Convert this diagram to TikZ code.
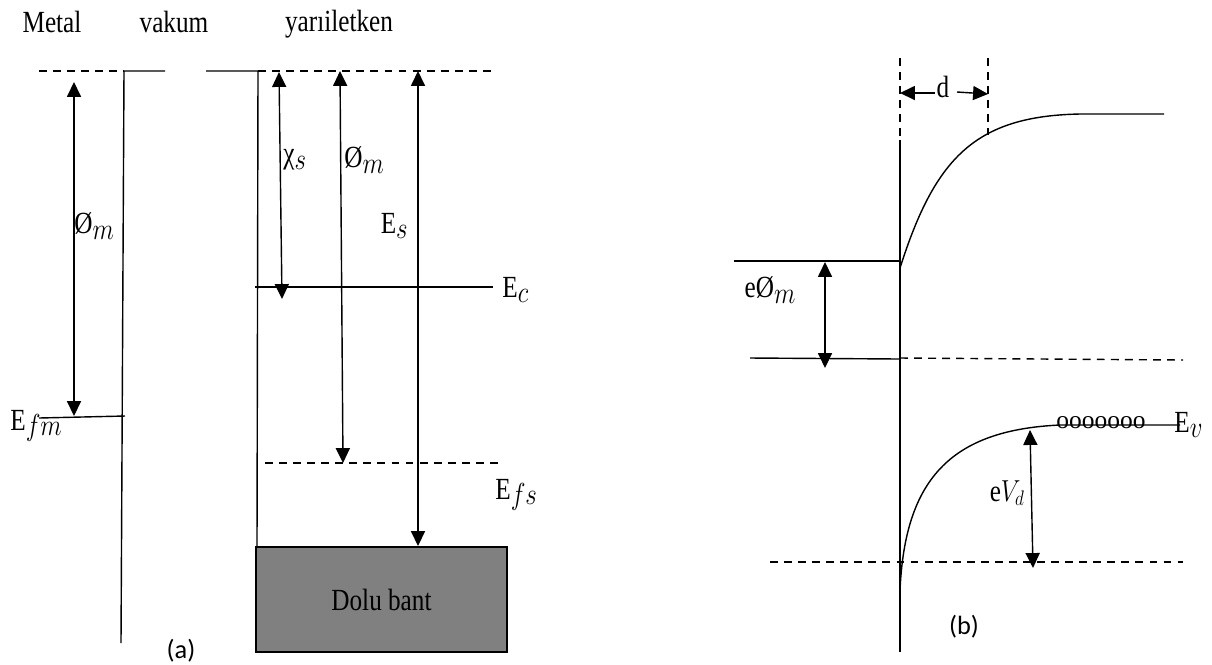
\documentclass[tikz,border=0pt]{standalone}
\usepackage{fontspec}
\setmainfont{Liberation Serif}[FakeStretch=0.82]
\newfontfamily\lblfont{Carlito}
\newfontfamily\roundfont{Liberation Serif}
\usetikzlibrary{arrows.meta}
\definecolor{bandgray}{RGB}{128,128,128}
\newcommand{\lsub}[1]{\raisebox{-0.4ex}{\scalebox{0.82}[1]{\fontsize{16}{18}\selectfont$#1$}}}

\tikzset{
  lvl/.style={line width=0.8pt},
  dsh/.style={line width=0.8pt, dash pattern=on 4.5pt off 3.5pt},
  dimarr/.style={line width=0.8pt, {Triangle[length=8.5pt,width=8pt]}-{Triangle[length=8.5pt,width=8pt]}},
  onearr/.style={line width=0.8pt, -{Triangle[length=8.5pt,width=8pt]}},
  txt/.style={inner sep=0pt, font=\fontsize{17.5}{20}\selectfont},
  sublbl/.style={inner sep=0pt, font=\lblfont\fontsize{15}{18}\selectfont},
}

\begin{document}
\begin{tikzpicture}[x=0.02cm, y=-0.02cm]
    \useasboundingbox (0,0) rectangle (1212,664);
    % (a) metal - vakum - yariiletken
    \node[txt] (metal) at (52,22) {Metal};
    \node[txt] (vakum) at (174,22) {vakum};
    \node[txt] (yari) at (339,24) {yarıiletken};
    \draw[dsh] (39,71) -- (124,71);
    \draw[lvl] (165,71) -- (124,71) -- (121,643);
    \draw[lvl] (206,71) -- (258,71) -- (257,547);
    \draw[dsh] (258,71) -- (494,71);
    \draw[lvl] (39,418) -- (125,416);
    \draw[dimarr] (74,82) -- (74,416);
    \node[txt, anchor=west] (phim) at (74,226) {Ø\lsub{m}};
    \node[txt, anchor=west] (efm) at (10,426) {E\lsub{fm}};
    \draw[lvl] (255,287) -- (493,287);
    \node[txt, anchor=west] (ec) at (502,290) {E\lsub{c}};
    \draw[dimarr] (279,72) -- (282,299);
    \node[txt, anchor=west] (chis) at (283,160) {χ\lsub{s}};
    \draw[dimarr] (340,71) -- (343,463);
    \node[txt, anchor=west] (phims) at (344,160) {Ø\lsub{m}};
    \draw[dimarr] (418,71) -- (418,546);
    \node[txt, anchor=east] (es) at (408,226) {E\lsub{s}};
    \draw[dsh] (265,463) -- (502,463);
    \node[txt, anchor=west] (efs) at (495,495) {E\lsub{fs}};
    \node[txt, draw, line width=0.8pt, fill=bandgray, minimum width=5.02cm, minimum height=2.1cm] (band) at (381.5,599.5) {Dolu bant};
    \node[sublbl] (capa) at (181,651) {(a)};
    % (b) band bending
    \draw[lvl] (900,140) -- (900,652);
    \draw[dsh] (900,58) -- (900,137);
    \draw[dsh] (988,58) -- (988,135);
    \draw[onearr] (935,93) -- (900,93);
    \draw[onearr] (957,92) -- (988,94);
    \node[txt] (d) at (943,87) {d};
    \draw[lvl] (900,268) .. controls (935,158) and (975,116) .. (1080,114) -- (1164,114);
    \draw[lvl] (734,261) -- (900,261);
    \draw[lvl] (750,358) -- (900,359);
    \draw[dsh] (900,358) -- (1183,360);
    \draw[dimarr] (825,262) -- (825,368);
    \node[txt] (ephim) at (770,290) {eØ\lsub{m}};
    \draw[lvl] (900,590) .. controls (905,480) and (950,430) .. (1060,425) -- (1180,425);
    \node[inner sep=0pt, font=\roundfont\fontsize{14.5}{17}\selectfont, anchor=base] (holes) at (1101,428) {ooooooo};
    \node[txt, anchor=west] (ev) at (1174,425) {E\lsub{v}};
    \draw[dsh] (770,562) -- (1183,562);
    \draw[dimarr] (1030,430) -- (1033,568);
    \node[txt, anchor=east] (evd) at (1025,493) {e\scalebox{0.82}[1]{\fontsize{17}{19}\selectfont$V_d$}};
    \node[sublbl] (capb) at (964,627) {(b)};
\end{tikzpicture}
\end{document}
